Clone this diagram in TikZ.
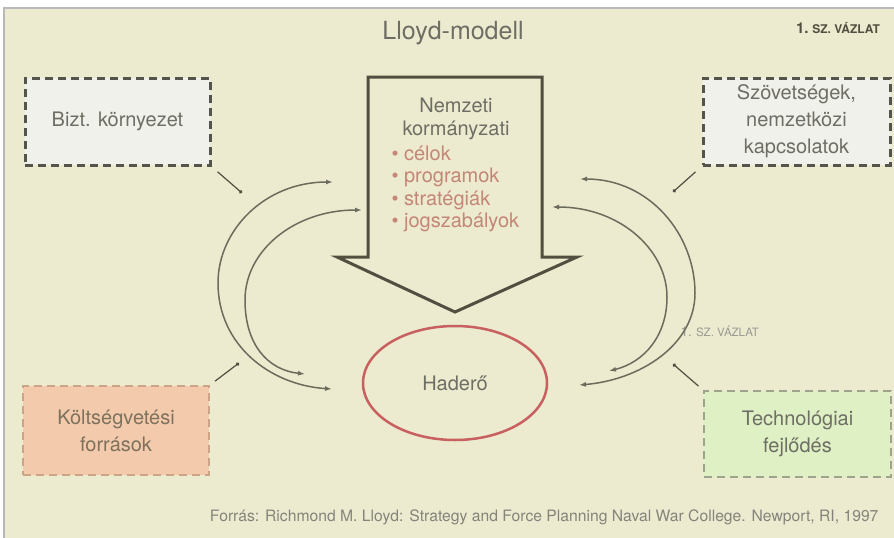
\documentclass[tikz,border=0pt]{standalone}
\usepackage{fontspec}
\setmainfont{TeX Gyre Heros}
\usetikzlibrary{positioning}
\usetikzlibrary{shapes.geometric}
\usetikzlibrary{arrows.meta}

\definecolor{paper}{RGB}{236,234,207}
\definecolor{inkgray}{RGB}{110,110,100}
\definecolor{darkline}{RGB}{82,78,64}
\definecolor{curvegray}{RGB}{108,108,92}
\definecolor{rosetext}{RGB}{196,134,118}
\definecolor{ovalred}{RGB}{200,96,96}
\definecolor{greybox}{RGB}{241,241,236}
\definecolor{greyedge}{RGB}{84,84,76}
\definecolor{peachbox}{RGB}{243,203,172}
\definecolor{peachedge}{RGB}{204,164,134}
\definecolor{greenbox}{RGB}{222,240,196}
\definecolor{greenedge}{RGB}{158,164,140}

\begin{document}
\begin{tikzpicture}[x=1pt,y=1pt,yscale=-1,xscale=1,
  factorbox/.style={rectangle, inner sep=0pt, align=center, text=inkgray,
    dash pattern=on 8pt off 5pt, font=\fontsize{20}{27}\selectfont},
  pointer/.style={draw=darkline, line width=1.2pt, -{Circle[length=3.5pt]}},
  loop/.style={draw=curvegray, line width=1.5pt, {Latex[length=7pt,width=5pt]}-{Latex[length=7pt,width=5pt]}}]
\useasboundingbox (0,0) rectangle (894,538);

%Shape: Rectangle [background]
\fill[paper] (5,8) rectangle (894,538);
\draw[gray!55, line width=2pt] (4,538) -- (4,8) -- (894,8);

% Text Node
\node (title) at (453,33) [text=inkgray, font=\fontsize{25}{30}\selectfont] {Lloyd-modell};
% Text Node
\node (stamp) at (838,28) [text=darkline, font=\bfseries] {{\fontsize{15}{17}\selectfont 1.} {\fontsize{12}{14}\selectfont SZ. VÁZLAT}};

%Shape: Arrow [id:gov]
\draw[darkline, line width=3pt, line join=miter] (368,257) -- (368,77) -- (542,77) -- (542,257) -- (577,257) -- (455,312) -- (337,257) -- cycle;
% Text Node
\node (gov) at (456,119) [align=center, text=inkgray, font=\fontsize{20}{23}\selectfont] {Nemzeti\\kormányzati};
% Text Node
\node (goals) at (388,189) [anchor=west, align=left, text=rosetext, font=\fontsize{20}{22.5}\selectfont] {• célok\\• programok\\• stratégiák\\• jogszabályok};

%Shape: Ellipse [id:force]
\node (force) at (455,383) [ellipse, draw=ovalred, line width=2.5pt, minimum width=184pt, minimum height=114pt, text=inkgray, font=\fontsize{20}{24}\selectfont] {Haderő};

% Text Node
\node (env) at (117.5,121.5) [factorbox, draw=greyedge, fill=greybox, line width=3pt, minimum width=185pt, minimum height=87pt] {Bizt. környezet};
% Text Node
\node (alliance) at (796.5,121.5) [factorbox, draw=greyedge, fill=greybox, line width=3pt, minimum width=187pt, minimum height=87pt] {Szövetségek,\\nemzetközi\\kapcsolatok};
% Text Node
\node (budget) at (116,430.5) [factorbox, draw=peachedge, fill=peachbox, line width=2.5pt, minimum width=186pt, minimum height=89pt, text=inkgray!80!brown] {Költségvetési\\források};
% Text Node
\node (tech) at (797.5,434) [factorbox, draw=greenedge, fill=greenbox, line width=2pt, minimum width=187pt, minimum height=86pt] {Technológiai\\fejlődés};

% Text Node
\node (stamp2) at (677,331) [anchor=west, text=inkgray!70, font=\fontsize{11.5}{13}\selectfont] {{\fontsize{13.5}{15}\selectfont 1.} SZ. VÁZLAT};
% Text Node
\node (source) at (882,517) [anchor=east, text=inkgray!85, font=\fontsize{15.7}{18}\selectfont] {Forrás: Richmond M. Lloyd: Strategy and Force Planning Naval War College. Newport, RI, 1997};

% Coordinates
\coordinate (govLa) at (333,182);
\coordinate (govLb) at (362,210);
\coordinate (govRa) at (580,179);
\coordinate (govRb) at (552,207);
\coordinate (forceLa) at (332,389);
\coordinate (forceLb) at (305,374);
\coordinate (forceRa) at (579,385);
\coordinate (forceRb) at (609,371);
\coordinate (envP) at (242,193);
\coordinate (allianceP) at (673,192);
\coordinate (budgetP) at (239,363);
\coordinate (techP) at (673,364);

% Connection
\draw[loop] (govLa) .. controls (265,182) and (218,230) .. (218,283) .. controls (218,345) and (270,385) .. (forceLa);
% Connection
\draw[loop] (govLb) .. controls (295,210) and (245,250) .. (245,300) .. controls (245,345) and (268,370) .. (forceLb);
% Connection
\draw[loop] (govRa) .. controls (650,179) and (695,235) .. (695,293) .. controls (695,345) and (640,380) .. (forceRa);
% Connection
\draw[loop] (govRb) .. controls (620,207) and (667,250) .. (667,297) .. controls (667,335) and (645,362) .. (forceRb);

% Connection
\draw[pointer, shorten <=8pt] (env.south east) -- (envP);
% Connection
\draw[pointer, shorten <=8pt] (alliance.south west) -- (allianceP);
% Connection
\draw[pointer, shorten <=6pt] (budget.north east) -- (budgetP);
% Connection
\draw[pointer, shorten <=6pt] (tech.north west) -- (techP);

\end{tikzpicture}
\end{document}
